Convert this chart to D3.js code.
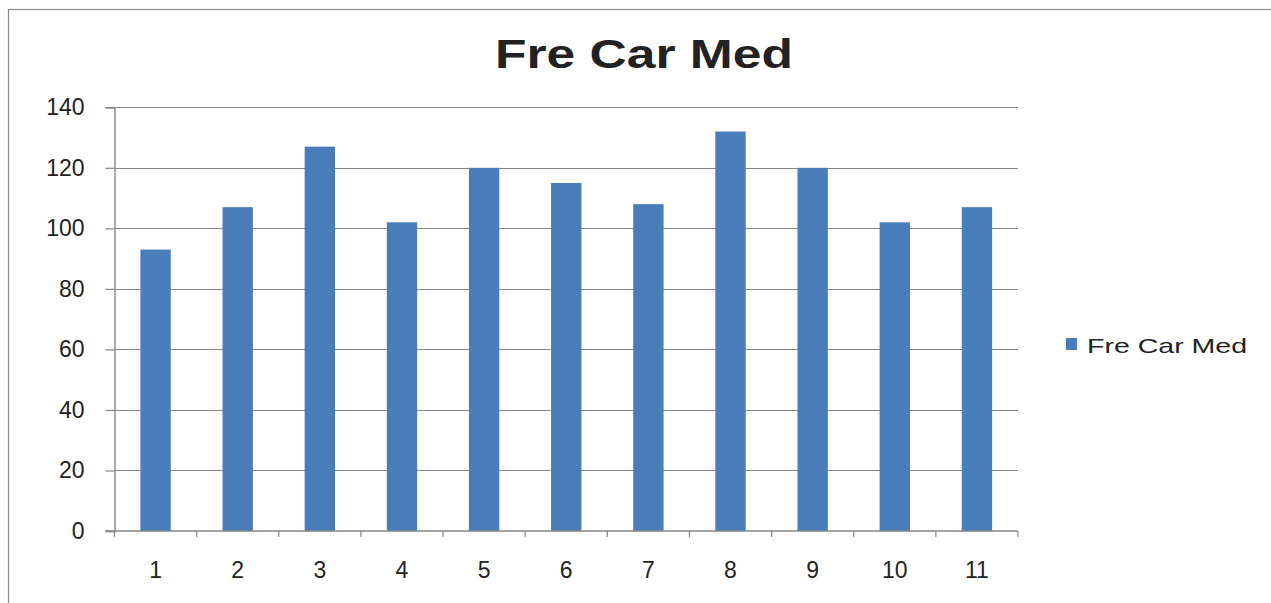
<!DOCTYPE html>
<html>
<head>
<meta charset="utf-8">
<script src="https://cdn.jsdelivr.net/npm/d3@7"></script>
<style>
  html, body { margin: 0; padding: 0; background: #fff; }
  svg { display: block; }
  text { font-family: "Liberation Sans", Arial, sans-serif; fill: #222; }
</style>
</head>
<body>
<svg id="chart" width="1271" height="603"></svg>
<script>
const categories = ["1","2","3","4","5","6","7","8","9","10","11"];
const values = [93, 107, 127, 102, 120, 115, 108, 132, 120, 102, 107];
const yTicks = [0, 20, 40, 60, 80, 100, 120, 140];
const seriesName = "Fre Car Med";
const titleText = "Fre Car Med";

(function () {
const svg = d3.select("#chart");
const plotLeft = 114.5, plotRight = 1018, plotTop = 107.3, plotBottom = 531;
const barColor = "#4a7ebb";
const lineColor = "#868686";

// outer border
svg.append("rect").attr("x", 8.5).attr("y", 9.5).attr("width", 1300).attr("height", 700)
  .attr("fill", "none").attr("stroke", "#8c8c8c").attr("stroke-width", 1.2);

const x = d3.scaleBand().domain(categories).range([plotLeft, plotRight]).paddingInner(0.63).paddingOuter(0.315);
const y = d3.scaleLinear().domain([0, 140]).range([plotBottom, plotTop]);

// gridlines
svg.append("g").selectAll("line").data(yTicks.filter(d => d > 0)).join("line")
  .attr("x1", plotLeft).attr("x2", plotRight)
  .attr("y1", d => Math.round(y(d)) + 0.5).attr("y2", d => Math.round(y(d)) + 0.5)
  .attr("stroke", lineColor).attr("stroke-width", 1.2);

// bars
svg.append("g").selectAll("rect").data(values).join("rect")
  .attr("x", (d, i) => x(categories[i]))
  .attr("width", x.bandwidth())
  .attr("y", d => y(d))
  .attr("height", d => y(0) - y(d))
  .attr("fill", barColor);

// y axis
const yAxis = d3.axisLeft(y).tickValues(yTicks).tickSize(9).tickPadding(21);
const gy = svg.append("g").attr("transform", `translate(${plotLeft},0)`).call(yAxis);
gy.select(".domain").attr("stroke", lineColor).attr("stroke-width", 1.4);
gy.selectAll(".tick line").attr("stroke", lineColor).attr("stroke-width", 1.2);
gy.selectAll(".tick text").style("font-size", "23px").attr("fill", "#222")
  .style("font-family", '"Liberation Sans", Arial, sans-serif');

// x axis baseline
svg.append("line").attr("x1", plotLeft - 9).attr("x2", plotRight).attr("y1", plotBottom).attr("y2", plotBottom)
  .attr("stroke", lineColor).attr("stroke-width", 1.4);
// x ticks at category boundaries
const bounds = d3.range(categories.length + 1).map(i => plotLeft + i * ((plotRight - plotLeft) / categories.length));
svg.append("g").selectAll("line").data(bounds).join("line")
  .attr("x1", d => d).attr("x2", d => d).attr("y1", plotBottom).attr("y2", plotBottom + 6)
  .attr("stroke", lineColor).attr("stroke-width", 1.2);
// x labels
svg.append("g").selectAll("text").data(categories).join("text")
  .attr("x", d => x(d) + x.bandwidth() / 2)
  .attr("y", 578)
  .attr("text-anchor", "middle")
  .style("font-size", "23px")
  .text(d => d);

// title
svg.append("text").attr("x", 644).attr("y", 67.5).attr("text-anchor", "middle")
  .style("font-size", "40px").style("font-weight", "bold").attr("fill", "#111")
  .attr("textLength", 298).attr("lengthAdjust", "spacingAndGlyphs")
  .text(titleText);

// legend
svg.append("rect").attr("x", 1066).attr("y", 338).attr("width", 11).attr("height", 12).attr("fill", barColor);
svg.append("text").attr("x", 1087).attr("y", 352.5)
  .style("font-size", "21px")
  .attr("textLength", 160).attr("lengthAdjust", "spacingAndGlyphs")
  .text(seriesName);
})();
</script>
</body>
</html>
